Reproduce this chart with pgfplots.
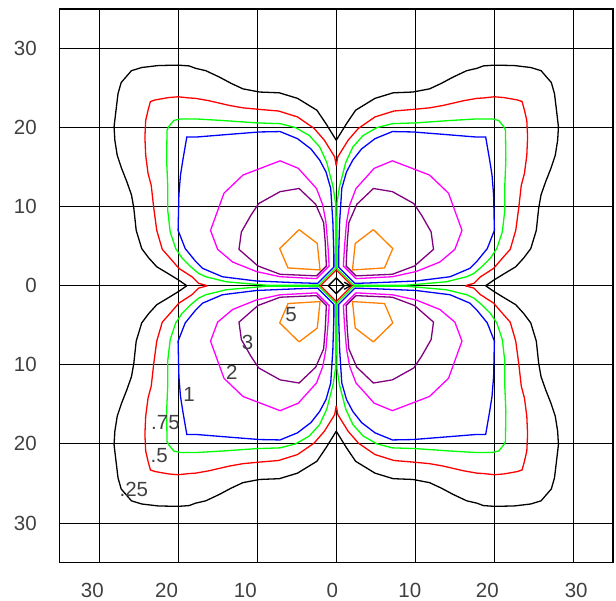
\documentclass[border=0pt]{standalone}
\usepackage{pgfplots}
\pgfplotsset{compat=1.18}
\usepackage{pgfplotstable}
\usepackage{fontspec}
\setmainfont{Liberation Sans}
\definecolor{txt}{HTML}{404040}
\definecolor{cblack}{HTML}{000000}
\definecolor{cred}{HTML}{FF0000}
\definecolor{cgreen}{HTML}{00FF00}
\definecolor{cblue}{HTML}{0000FF}
\definecolor{cmag}{HTML}{FF00FF}
\definecolor{cpur}{HTML}{800080}
\definecolor{corg}{HTML}{FF8000}

% contour level .25 (upper-left quadrant, from x-axis cusp to y-axis cusp)
\pgfplotstableread{
x y
-18.9 0
-19.9 0.7
-21.2 1.5
-22.7 2.4
-23.7 3.5
-24.6 4.7
-25.3 7.0
-25.6 9.8
-25.9 11.5
-26.5 13.2
-27.15 14.85
-27.7 16.5
-28.0 18.4
-28.1 20.1
-27.9 21.8
-27.6 24.3
-27.2 25.7
-25.9 27.2
-24.6 27.6
-22.5 27.85
-20.0 27.9
-18.6 27.8
-17.8 27.5
-16.5 27.2
-14.8 26.4
-13.3 25.6
-11.8 24.9
-9.7 24.5
-7.2 24.4
-4.9 23.7
-2.45 22.2
-1.3 20.5
0 18.4
}\tblA
% level .5
\pgfplotstableread{
x y
-16.3 0
-17.4 0.3
-18.2 1.1
-19.9 2.2
-21.2 3.7
-22.0 4.6
-22.7 7.0
-23.1 10.0
-23.4 12.7
-23.8 14.2
-24.1 16.5
-24.2 18.8
-24.1 20.9
-23.8 22.2
-23.5 23.3
-22.9 23.5
-21.2 23.8
-20.0 23.9
-18.6 23.75
-17.8 23.7
-16.1 23.4
-13.5 22.8
-11.8 22.5
-9.7 22.3
-7.3 22.1
-4.9 21.35
-2.8 19.9
-1.5 18.4
-0.2 16.3
0 15.2
}\tblB
% level .75 (closed lobe)
\pgfplotstableread{
x y
-2.2 0.08
-8.6 0.05
-10.1 0.17
-13.9 0.5
-16.5 1.14
-17.4 1.56
-18.4 2.4
-19.5 3.5
-20.3 4.7
-21.0 6.8
-21.3 9.4
-21.3 12.3
-21.45 15.9
-21.4 19.7
-21.2 20.1
-20.55 20.9
-19.7 21.1
-17.8 21.1
-14.4 20.9
-10.1 20.6
-7.1 20.5
-5.15 20.0
-3.4 19.0
-2.1 17.55
-1.2 15.6
-0.4 12.5
-0.1 10.5
-0.08 8.6
-0.08 2.2
-2.2 0.08
}\tblC
% level 1
\pgfplotstableread{
x y
-2.35 0.3
-4.9 0.38
-10.1 0.6
-14.4 1.14
-16.9 2.2
-17.8 3.1
-19.1 4.7
-20.0 7.0
-19.9 11.5
-19.7 14.0
-19.4 15.9
-18.9 18.8
-17.8 18.8
-13.5 19.15
-9.7 19.45
-7.1 19.5
-4.9 18.6
-3.2 17.3
-2.1 15.9
-1.3 14.4
-0.7 12.3
-0.43 8.1
-0.3 3.9
-0.3 2.35
-2.35 0.3
}\tblD
% level 2
\pgfplotstableread{
x y
-2.5 0.9
-7.1 1.14
-10.1 1.8
-13.1 3.0
-15.0 4.6
-15.9 7.0
-14.2 11.7
-11.8 14.0
-7.1 15.8
-4.8 14.85
-2.5 12.3
-1.7 10.2
-1.3 8.0
-1.05 5.0
-0.9 2.5
-2.5 0.9
}\tblE
% level 3
\pgfplotstableread{
x y
-2.5 1.25
-7.1 1.45
-9.9 2.5
-12.3 4.6
-12.0 6.8
-10.8 8.9
-9.8 10.4
-7.1 11.9
-4.7 12.3
-2.6 10.3
-1.6 8.0
-1.4 5.6
-1.25 2.5
-2.5 1.25
}\tblF
% level 5
\pgfplotstableread{
x y
-4.7 7.1
-2.4 5.35
-2.05 2.0
-6.1 2.25
-7.15 4.7
-4.7 7.1
}\tblG

\newcommand{\mirrorplot}[2]{%
  \addplot[#1] table[x=x,y=y] {#2};
  \addplot[#1] table[x expr=-\thisrow{x},y=y] {#2};
  \addplot[#1] table[x=x,y expr=-\thisrow{y}] {#2};
  \addplot[#1] table[x expr=-\thisrow{x},y expr=-\thisrow{y}] {#2};
}

\begin{document}
\begin{tikzpicture}
\useasboundingbox (0,0) rectangle (616bp,601bp);
\begin{axis}[
  at={(59.5bp,38.5bp)}, anchor=south west,
  scale only axis, width=553.5bp, height=553.5bp,
  xmin=-35, xmax=35, ymin=-35, ymax=35,
  axis line style={line width=1.4bp, black},
  /pgf/number format/assume math mode=true,
  tick label style={font=\fontsize{20.5bp}{24bp}\selectfont, text=txt},
  xtick={-30.85,-21.45,-11.5,-0.5,9.3,19.1,30.35},
  xticklabels={30,20,10,0,10,20,30},
  minor xtick={-30,-20,-10,0,10,20,30},
  xminorgrids, xmajorgrids=false,
  ytick={-30,-20,-10,0,10,20,30},
  yticklabels={30,20,10,0,10,20,30},
  ymajorgrids,
  major tick length=0pt, minor tick length=0pt,
  grid style={black, line width=0.9bp},
  minor grid style={black, line width=0.9bp},
  xticklabel style={inner sep=0pt, anchor=north, yshift=-20bp},
  yticklabel style={inner sep=0pt, anchor=east, xshift=-22.5bp},
  every axis plot/.append style={line width=1.3bp, mark=none},
  clip=true,
]
\mirrorplot{cblack}{\tblA}
\mirrorplot{cred}{\tblB}
\mirrorplot{cgreen}{\tblC}
\mirrorplot{cblue}{\tblD}
\mirrorplot{cmag}{\tblE}
\mirrorplot{cpur}{\tblF}
\mirrorplot{corg}{\tblG}
% small central diamonds
\addplot[cred] coordinates {(-2,0) (0,2) (2,0) (0,-2) (-2,0)};
\addplot[cblack] coordinates {(-1.0,0) (0,1.0) (1.0,0) (0,-1.0) (-1.0,0)};
\addplot[cblack] coordinates {(1.0,0.45) (1.8,0) (1.0,-0.45)};
% contour labels
\begin{scope}[every node/.style={font=\fontsize{20.5bp}{24bp}\selectfont, text=txt, inner sep=0pt}]
\node at (axis cs:-25.6,-25.7) {.25};
\node at (axis cs:-22.4,-21.5) {.5};
\node at (axis cs:-21.6,-17.3) {.75};
\node at (axis cs:-18.6,-13.7) {1};
\node at (axis cs:-13.2,-11.0) {2};
\node at (axis cs:-11.2,-7.2) {3};
\node at (axis cs:-5.7,-3.6) {5};
\end{scope}
\end{axis}
\end{tikzpicture}
\end{document}
